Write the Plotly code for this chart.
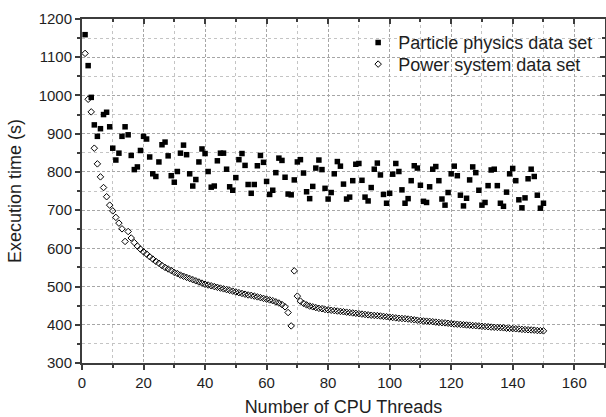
import plotly.graph_objects as go

# ---------------- data ----------------
threads = list(range(1, 151))

particle_times = [
    1159, 1078, 995, 923, 893, 913, 950, 956, 918, 862,
    831, 849, 893, 918, 897, 843, 806, 813, 856, 893,
    886, 839, 795, 788, 826, 871, 878, 842, 790, 773,
    801, 849, 870, 845, 795, 763, 780, 826, 860, 848,
    801, 760, 763, 829, 849, 849, 807, 761, 752, 785,
    832, 848, 817, 767, 744, 767, 816, 843, 825, 775,
    741, 752, 798, 836, 830, 786, 742, 740, 779, 826,
    832, 797, 748, 730, 762, 810, 831, 806, 757, 729,
    746, 795, 827, 815, 768, 729, 734, 777, 820, 822,
    778, 734, 724, 759, 807, 823, 792, 741, 718, 744,
    794, 822, 801, 753, 718, 730, 777, 816, 810, 765,
    723, 720, 761, 807, 814, 777, 729, 713, 746, 795,
    815, 790, 739, 711, 731, 779, 813, 798, 752, 713,
    720, 764, 805, 807, 764, 718, 710, 747, 795, 809,
    777, 727, 706, 732, 782, 807, 788, 739, 705, 718,
]

power_times = [
    1110, 990, 957, 862, 821, 787, 759, 735, 713, 698,
    681, 666, 651, 618, 644, 627, 615, 606, 598, 591,
    585, 578, 572, 566, 561, 555, 550, 546, 542, 537,
    534, 530, 527, 524, 521, 518, 515, 512, 509, 506,
    504, 502, 500, 498, 496, 494, 492, 490, 488, 486,
    484, 482, 480, 478, 477, 475, 473, 471, 469, 467,
    465, 463, 460, 457, 453, 447, 432, 397, 541, 475,
    462, 456, 452, 449, 447, 445, 443, 442, 440, 439,
    438, 437, 436, 435, 434, 433, 432, 431, 430, 429,
    428, 427, 426, 425, 424.5, 424, 423, 422, 421, 420,
    419, 418, 417, 416.5, 416, 415, 414, 413, 412, 411,
    410, 409.5, 409, 408, 407, 406, 405.5, 405, 404, 403,
    402, 401.5, 401, 400, 399.5, 399, 398, 397.5, 397, 396,
    395.5, 395, 394, 393.5, 393, 392.5, 392, 391, 390.5, 390,
    389.5, 389, 388, 387.5, 387, 386.5, 386, 385, 384.5, 384,
]

x_range = [0, 170]
y_range = [300, 1200]
series_names = ["Particle physics data set", "Power system data set"]
x_title = "Number of CPU Threads"
y_title = "Execution time (s)"

# ---------------- style ----------------
FONT = "Liberation Sans, Arial, sans-serif"
AXC = "#3c3c3c"
TXT = "#1e1e1e"
MAJ_GRID = "#a6a6a6"
MIN_GRID = "#c4c4c4"

fig = go.Figure()
fig.add_trace(go.Scatter(
    x=threads, y=particle_times, mode="markers", name=series_names[0], legend="legend",
    marker=dict(symbol="square", size=5.5, color="black", line=dict(width=0)),
))
fig.add_trace(go.Scatter(
    x=threads, y=power_times, mode="markers", name=series_names[1], legend="legend2",
    marker=dict(symbol="diamond-open", size=5, color="black", line=dict(width=1, color="black")),
))
# empty trace to carry the mirrored (top/right) axes
fig.add_trace(go.Scatter(x=[], y=[], xaxis="x2", yaxis="y2", showlegend=False, hoverinfo="skip"))

common = dict(showline=True, linecolor=AXC, linewidth=2, zeroline=False,
              tickcolor=AXC, tickwidth=1.5)

leg = dict(xanchor="left", yanchor="middle", bgcolor="rgba(0,0,0,0)",
           font=dict(size=18, color=TXT), itemsizing="trace")

fig.update_layout(
    width=606, height=417,
    margin=dict(l=82, r=1, t=19, b=48),
    paper_bgcolor="white", plot_bgcolor="white",
    font=dict(family=FONT, color=TXT),
    showlegend=True,
    legend=dict(x=0.528, y=0.931, **leg),
    legend2=dict(x=0.528, y=0.868, **leg),
    xaxis=dict(range=x_range, tick0=0, dtick=20, ticks="outside", ticklen=5,
               showgrid=True, gridcolor=MAJ_GRID, griddash="3px,2px", gridwidth=1,
               minor=dict(dtick=10, ticks="outside", ticklen=3, tickcolor=AXC,
                          showgrid=True, gridcolor=MIN_GRID, griddash="dot", gridwidth=1),
               tickfont=dict(size=15, color=TXT),
               title=dict(text=x_title, font=dict(size=18, color=TXT), standoff=12),
               **common),
    yaxis=dict(range=y_range, tick0=0, dtick=100, ticks="outside", ticklen=5,
               showgrid=True, gridcolor=MAJ_GRID, griddash="3px,2px", gridwidth=1,
               minor=dict(dtick=50, ticks="outside", ticklen=3, tickcolor=AXC,
                          showgrid=True, gridcolor=MIN_GRID, griddash="dot", gridwidth=1),
               tickfont=dict(size=15, color=TXT),
               title=dict(text=y_title, font=dict(size=18, color=TXT), standoff=12),
               **common),
    xaxis2=dict(overlaying="x", side="top", anchor="y", range=x_range, tick0=0, dtick=20,
                ticks="inside", ticklen=5, showticklabels=False, showgrid=False,
                minor=dict(dtick=10, ticks="inside", ticklen=3, tickcolor=AXC, showgrid=False),
                **common),
    yaxis2=dict(overlaying="y", side="right", anchor="x", range=y_range, tick0=0, dtick=100,
                ticks="inside", ticklen=5, showticklabels=False, showgrid=False,
                minor=dict(dtick=50, ticks="inside", ticklen=3, tickcolor=AXC, showgrid=False),
                **common),
)

fig.write_html("out.html")
